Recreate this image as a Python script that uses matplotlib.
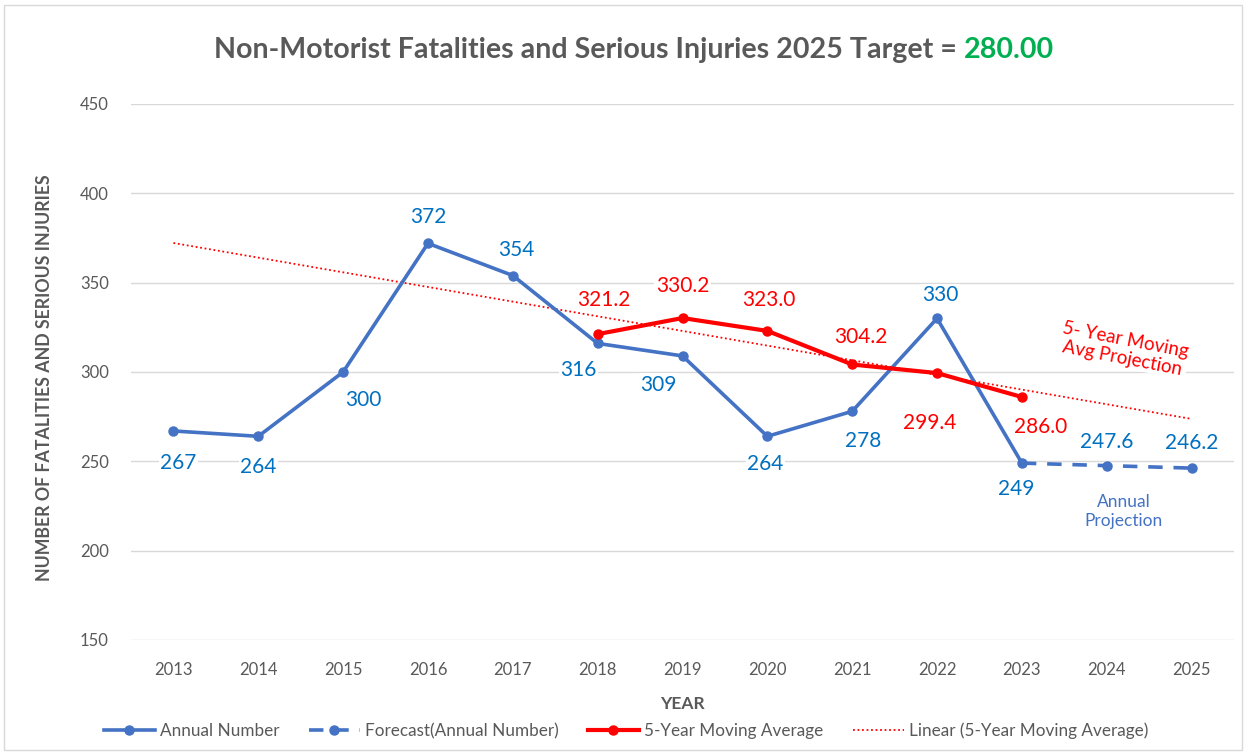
import matplotlib
matplotlib.use('Agg')
import matplotlib.pyplot as plt
from matplotlib.patches import Rectangle
import numpy as np

plt.rcParams['font.family'] = ['Lato', 'DejaVu Sans']

years = [2013, 2014, 2015, 2016, 2017, 2018, 2019, 2020, 2021, 2022, 2023]
annual = [267, 264, 300, 372, 354, 316, 309, 264, 278, 330, 249]

forecast_years = [2023, 2024, 2025]
forecast = [249, 247.6, 246.2]

ma_years = [2018, 2019, 2020, 2021, 2022, 2023]
moving_avg = [321.2, 330.2, 323.0, 304.2, 299.4, 286.0]

all_years = list(range(2013, 2026))

# label offsets in pixels (dx, dy) from each point
annual_offsets = [(5, -32), (0, -31), (20, -28), (0, 26), (4, 26), (-19, -27),
                  (-24, -29), (-2, -28), (11, -30), (3, 23), (-6, -26)]
forecast_offsets = [(0, 24), (0, 25)]
ma_offsets = [(6, 34), (0, 32), (1, 31), (9, 27), (-7, -50), (19, -30)]

BLUE = '#4472C4'
BLUE_TXT = '#0070C0'
RED = '#FF0000'
GRAY = '#595959'
GRID = '#D9D9D9'

fig = plt.figure(figsize=(12.46, 7.53), dpi=100)
ax = fig.add_axes([131 / 1246, 1 - 640 / 753, (1234 - 131) / 1246, 536 / 753])

# trendline of the moving average (linear fit, extended over all years)
coef = np.polyfit(ma_years, moving_avg, 1)
trend = np.polyval(coef, all_years)

ax.plot(years, annual, color=BLUE, lw=2.6, marker='o', ms=6.5,
        label='Annual Number', zorder=4)
ax.plot(forecast_years, forecast, color=BLUE, lw=2.6, ls=(0, (4, 3)),
        marker='o', ms=6.5, markevery=[1, 2],
        label='Forecast(Annual Number)', zorder=4)
ax.plot(ma_years, moving_avg, color=RED, lw=3, marker='o', ms=6.5,
        label='5-Year Moving Average', zorder=5)
ax.plot(all_years, trend, color=RED, lw=1.3, ls=(0, (1, 1.5)),
        label='Linear (5-Year Moving Average)', zorder=3)

box = dict(facecolor='white', edgecolor='none', pad=1)
for x, y, (dx, dy) in zip(years, annual, annual_offsets):
    ax.annotate(f'{y:g}', (x, y), xytext=(dx, dy), textcoords='offset pixels',
                ha='center', va='center', fontsize=15, color=BLUE_TXT,
                bbox=box, zorder=2)
for x, y, (dx, dy) in zip(forecast_years[1:], forecast[1:], forecast_offsets):
    ax.annotate(f'{y:.1f}', (x, y), xytext=(dx, dy), textcoords='offset pixels',
                ha='center', va='center', fontsize=15, color=BLUE_TXT,
                bbox=box, zorder=2)
for x, y, (dx, dy) in zip(ma_years, moving_avg, ma_offsets):
    ax.annotate(f'{y:.1f}', (x, y), xytext=(dx, dy), textcoords='offset pixels',
                ha='center', va='center', fontsize=15, color=RED,
                bbox=box, zorder=2)

ax.text(2024.2, 313, '5- Year Moving\nAvg Projection', color=RED, fontsize=13.5,
        rotation=-11, ha='center', va='center', rotation_mode='anchor',
        bbox=box, zorder=2, linespacing=1.1)
ax.text(2024.2, 222, 'Annual\nProjection', color=BLUE, fontsize=12.5,
        ha='center', va='center', linespacing=1.25)

ax.set_xlim(2012.5, 2025.5)
ax.set_ylim(150, 450)
ax.set_xticks(all_years)
ax.set_yticks(range(150, 451, 50))
ax.grid(axis='y', color=GRID, lw=1)
ax.set_axisbelow(True)
for s in ax.spines.values():
    s.set_visible(False)
ax.tick_params(length=0, labelsize=12, colors=GRAY)
ax.tick_params(axis='x', pad=16)
ax.tick_params(axis='y', pad=16)

ax.set_xlabel('YEAR', fontsize=12.5, fontweight='bold', color=GRAY)
ax.xaxis.set_label_coords(0.5, -0.105)
ax.set_ylabel('NUMBER OF FATALITIES AND SERIOUS INJURIES', fontsize=12.8,
              fontweight='bold', color=GRAY)
ax.yaxis.set_label_coords(-0.071, 0.49)

# two-coloured title
fig.canvas.draw()
renderer = fig.canvas.get_renderer()
t1 = fig.text(0, 0, 'Non-Motorist Fatalities and Serious Injuries 2025 Target = ',
              fontsize=20.6, fontweight='bold', color=GRAY, va='center')
t2 = fig.text(0, 0, '280.00', fontsize=20.6, fontweight='bold', color='#00B050',
              va='center')
w1 = t1.get_window_extent(renderer).width
w2 = t2.get_window_extent(renderer).width
x0 = 634 - (w1 + w2) / 2
ty = 1 - 50 / 753
t1.set_position((x0 / 1246, ty))
t2.set_position(((x0 + w1) / 1246, ty))

fig.legend(loc='center', bbox_to_anchor=(626 / 1246, 1 - 731 / 753), ncol=4,
           frameon=False, fontsize=12.3, labelcolor=GRAY, handlelength=3,
           columnspacing=1.7, handletextpad=0.3)

fig.patches.append(Rectangle((4 / 1246, 3 / 753), 1238 / 1246, 745 / 753,
                             transform=fig.transFigure, fill=False,
                             edgecolor=GRID, lw=1))

fig.savefig('out.png', dpi=100)
